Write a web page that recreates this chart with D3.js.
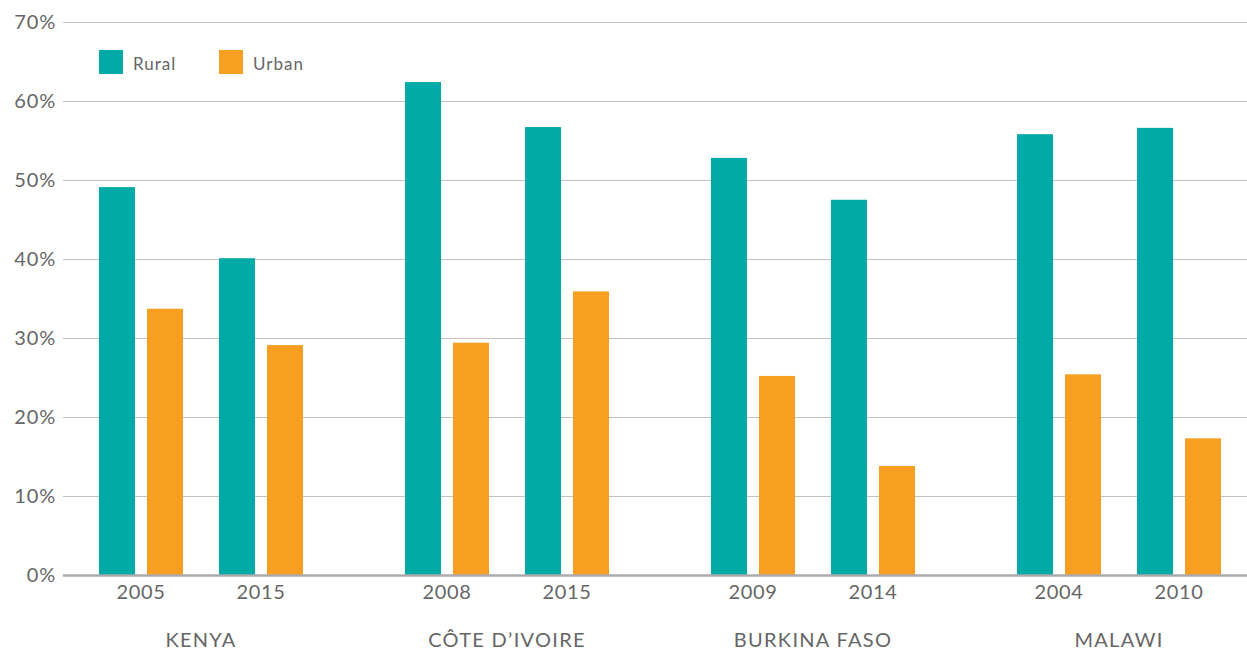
<!DOCTYPE html>
<html>
<head>
<meta charset="utf-8">
<script src="https://cdn.jsdelivr.net/npm/d3@7"></script>
<style>
  body { margin: 0; background: #fff; }
  svg { display: block; font-family: Lato, "Open Sans", sans-serif; }
</style>
</head>
<body>
<div id="chart"></div>
<script>
// data
const countries = ["KENYA", "CÔTE D’IVOIRE", "BURKINA FASO", "MALAWI"];
const years = [["2005", "2015"], ["2008", "2015"], ["2009", "2014"], ["2004", "2010"]];
const rural = [[49.1, 40.1], [62.4, 56.7], [52.8, 47.5], [55.8, 56.6]];
const urban = [[33.7, 29.1], [29.4, 35.9], [25.2, 13.8], [25.4, 17.3]];
const seriesNames = ["Rural", "Urban"];
const yTicks = [0, 10, 20, 30, 40, 50, 60, 70];

const width = 1247;
const height = 650;
const gridLeft = 63;
const colors = { Rural: "#00aaa6", Urban: "#f89e20" };
const textColor = "#666";

const svg = d3.select("#chart")
  .append("svg")
  .attr("width", width)
  .attr("height", height)
  .attr("viewBox", [0, 0, width, height]);

// scales
const y = d3.scaleLinear().domain([0, 70]).range([575, 22]);
const xCountry = d3.scaleBand().domain(d3.range(countries.length)).range([99, 1221]).paddingInner(1 / 3);
const xYear = d3.scaleBand().domain([0, 1]).range([0, xCountry.bandwidth()]).paddingInner(0.3);
const xSeries = d3.scaleBand().domain(seriesNames).range([0, xYear.bandwidth()]).paddingInner(0.25);

// grid + y labels
const yAxis = d3.axisLeft(y)
  .tickValues(yTicks)
  .tickSize(-(width - gridLeft))
  .tickPadding(7)
  .tickFormat((d) => d + "%");

svg.append("g")
  .attr("transform", `translate(${gridLeft},0)`)
  .call(yAxis)
  .call((g) => g.select(".domain").remove())
  .call((g) => g.selectAll(".tick line").attr("stroke", "#c2c2c4").attr("stroke-width", 1.2))
  .call((g) => g.selectAll(".tick text")
    .attr("fill", textColor)
    .attr("font-size", 20)
    .attr("letter-spacing", 0.8)
    .attr("font-family", "Lato, sans-serif"));

// bars
const rows = [];
countries.forEach((c, ci) => {
  years[ci].forEach((yr, yi) => {
    rows.push({ ci, yi, series: "Rural", value: rural[ci][yi] });
    rows.push({ ci, yi, series: "Urban", value: urban[ci][yi] });
  });
});

svg.append("g")
  .selectAll("rect")
  .data(rows)
  .join("rect")
  .attr("x", (d) => xCountry(d.ci) + xYear(d.yi) + xSeries(d.series))
  .attr("y", (d) => y(d.value))
  .attr("width", xSeries.bandwidth())
  .attr("height", (d) => y(0) - y(d.value))
  .attr("fill", (d) => colors[d.series]);

// baseline
svg.append("line")
  .attr("x1", gridLeft)
  .attr("x2", width)
  .attr("y1", y(0) + 0.5)
  .attr("y2", y(0) + 0.5)
  .attr("stroke", "#ababad")
  .attr("stroke-width", 2.5);

// year labels
const yearLabels = [];
countries.forEach((c, ci) => years[ci].forEach((yr, yi) => yearLabels.push({ ci, yi, yr })));

svg.append("g")
  .attr("text-anchor", "middle")
  .attr("fill", textColor)
  .attr("font-size", 20)
  .attr("letter-spacing", 0.6)
  .selectAll("text")
  .data(yearLabels)
  .join("text")
  .attr("x", (d) => xCountry(d.ci) + xYear(d.yi) + xYear.bandwidth() / 2)
  .attr("y", 599)
  .text((d) => d.yr);

// country labels
svg.append("g")
  .attr("text-anchor", "middle")
  .attr("fill", textColor)
  .attr("font-size", 20)
  .attr("letter-spacing", 1.3)
  .selectAll("text")
  .data(countries)
  .join("text")
  .attr("x", (d, i) => xCountry(i) + xCountry.bandwidth() / 2)
  .attr("y", 647)
  .text((d) => d);

// legend
const legend = svg.append("g")
  .selectAll("g")
  .data(seriesNames)
  .join("g")
  .attr("transform", (d, i) => `translate(${99 + i * 120},50)`);

legend.append("rect")
  .attr("width", 24)
  .attr("height", 24)
  .attr("fill", (d) => colors[d]);

legend.append("text")
  .attr("x", 34)
  .attr("y", 20)
  .attr("fill", textColor)
  .attr("font-size", 17)
  .attr("letter-spacing", 1)
  .text((d) => d);
</script>
</body>
</html>
